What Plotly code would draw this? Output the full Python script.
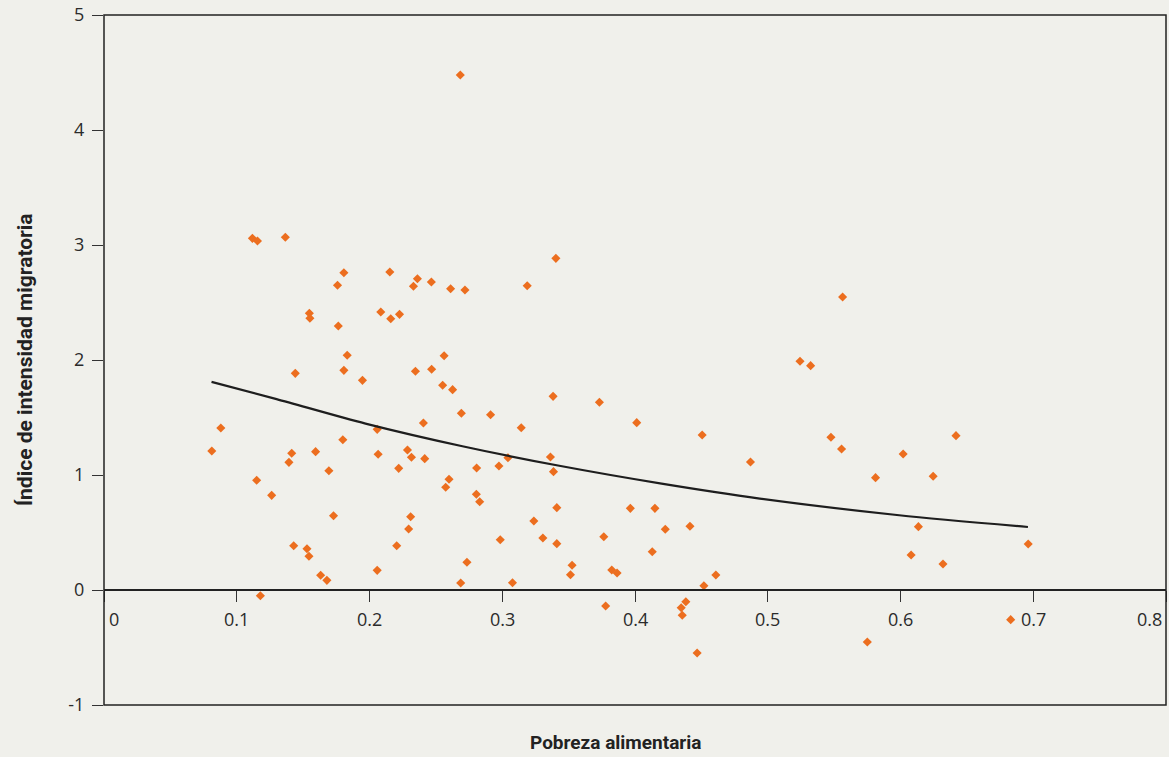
import plotly.graph_objects as go

# Scatter data: Pobreza alimentaria (x) vs Índice de intensidad migratoria (y)
pobreza = [
    0.0812, 0.0880, 0.1118, 0.1156, 0.1366, 0.1150, 0.1178, 0.1263, 0.1393, 0.1414,
    0.1441, 0.1429, 0.1547, 0.1551, 0.1529, 0.1544, 0.1594, 0.1632, 0.1679, 0.1694,
    0.1729, 0.1759, 0.1765, 0.1807, 0.1807, 0.1832, 0.1799, 0.1947, 0.2058, 0.2065,
    0.2058, 0.2085, 0.2153, 0.2160, 0.2226, 0.2220, 0.2205, 0.2286, 0.2316, 0.2310,
    0.2295, 0.2331, 0.2361, 0.2346, 0.2406, 0.2416, 0.2466, 0.2468, 0.2551, 0.2562,
    0.2574, 0.2599, 0.2611, 0.2626, 0.2684, 0.2692, 0.2719, 0.2687, 0.2734, 0.2807,
    0.2805, 0.2830, 0.2912, 0.2975, 0.2985, 0.3043, 0.3077, 0.3143, 0.3188, 0.3238,
    0.3306, 0.3363, 0.3386, 0.3383, 0.3404, 0.3411, 0.3411, 0.3526, 0.3514, 0.3732,
    0.3765, 0.3779, 0.3825, 0.3865, 0.3965, 0.4013, 0.4130, 0.4150, 0.4228, 0.4348,
    0.4356, 0.4383, 0.4414, 0.4468, 0.4506, 0.4519, 0.4609, 0.4870, 0.5243, 0.5323,
    0.5476, 0.5556, 0.5564, 0.5750, 0.5812, 0.6020, 0.6080, 0.6135, 0.6246, 0.6320,
    0.6418, 0.6830, 0.6962,
]
indice = [
    1.209, 1.409, 3.058, 3.035, 3.067, 0.954, -0.050, 0.823, 1.110, 1.189,
    1.884, 0.385, 2.406, 2.363, 0.359, 0.293, 1.203, 0.128, 0.084, 1.037,
    0.646, 2.650, 2.296, 2.759, 1.910, 2.041, 1.307, 1.823, 1.397, 1.180,
    0.171, 2.417, 2.765, 2.359, 2.397, 1.058, 0.385, 1.217, 1.154, 0.637,
    0.530, 2.641, 2.707, 1.902, 1.452, 1.142, 2.678, 1.919, 1.780, 2.037,
    0.893, 0.963, 2.620, 1.742, 4.478, 1.537, 2.609, 0.061, 0.241, 1.061,
    0.832, 0.768, 1.524, 1.078, 0.437, 1.150, 0.063, 1.411, 2.646, 0.600,
    0.452, 1.157, 1.029, 1.684, 2.884, 0.716, 0.403, 0.215, 0.133, 1.632,
    0.463, -0.139, 0.174, 0.148, 0.710, 1.455, 0.333, 0.710, 0.528, -0.154,
    -0.220, -0.102, 0.554, -0.548, 1.348, 0.037, 0.130, 1.113, 1.989, 1.951,
    1.328, 1.226, 2.548, -0.452, 0.977, 1.183, 0.304, 0.551, 0.989, 0.226,
    1.342, -0.258, 0.400,
]

# Trend line, values
trend_x = [0.081, 0.130, 0.197, 0.270, 0.344, 0.420, 0.494, 0.599, 0.696]
trend_y = [1.810, 1.660, 1.447, 1.250, 1.078, 0.925, 0.795, 0.650, 0.548]

x_ticks = [0, 0.1, 0.2, 0.3, 0.4, 0.5, 0.6, 0.7, 0.8]
x_tick_labels = ["0", "0.1", "0.2", "0.3", "0.4", "0.5", "0.6", "0.7", "0.8"]
y_ticks = [-1, 0, 1, 2, 3, 4, 5]
y_tick_labels = ["-1", "0", "1", "2", "3", "4", "5"]

BG = "#f0f0eb"
ORANGE = "#ec6e1f"
TXT = "#2b2b2b"
FONT = "Open Sans"
TITLE_FONT = "Roboto"

fig = go.Figure()
fig.add_trace(go.Scatter(
    x=pobreza, y=indice, mode="markers",
    marker=dict(symbol="diamond", size=7, color=ORANGE, line=dict(width=0)),
    showlegend=False, hoverinfo="x+y",
))
fig.add_trace(go.Scatter(
    x=trend_x, y=trend_y, mode="lines",
    line=dict(color="#1e1e1e", width=2.2, shape="spline", smoothing=0.8),
    showlegend=False, hoverinfo="skip",
))

ymin, ymax = y_ticks[0], y_ticks[-1]
zero_pos = (0 - ymin) / (ymax - ymin)

annotations = []
n = len(x_ticks)
for i, (v, lab) in enumerate(zip(x_ticks, x_tick_labels)):
    if i == 0:
        xa, xs = "left", 3
    elif i == n - 1:
        xa, xs = "right", -2
    else:
        xa, xs = "center", 0
    annotations.append(dict(
        x=v, y=0, xref="x", yref="y", text=lab, showarrow=False,
        xanchor=xa, yanchor="top", xshift=xs, yshift=-15,
        font=dict(family=FONT, size=18, color=TXT),
    ))

annotations.append(dict(
    x=-0.0743, y=0.5, xref="paper", yref="paper",
    text="<b>Índice de intensidad migratoria</b>", showarrow=False,
    textangle=-90, xanchor="center", yanchor="middle",
    font=dict(family=TITLE_FONT, size=21, color="#222222"),
))
annotations.append(dict(
    x=0.4816, y=-0.055, xref="paper", yref="paper",
    text="<b>Pobreza alimentaria</b>", showarrow=False,
    xanchor="center", yanchor="middle",
    font=dict(family=TITLE_FONT, size=19, color="#222222"),
))

fig.update_layout(
    width=1169, height=757,
    margin=dict(l=104, r=3, t=15, b=52),
    paper_bgcolor=BG, plot_bgcolor=BG,
    showlegend=False,
    xaxis=dict(
        range=[x_ticks[0], x_ticks[-1]],
        anchor="free", position=zero_pos,
        tickvals=x_ticks, showticklabels=False,
        ticks="outside", ticklen=11, tickwidth=1.3, tickcolor="#333333",
        showline=True, linecolor="#222222", linewidth=1.5,
        showgrid=False, zeroline=False,
    ),
    yaxis=dict(
        range=[ymin, ymax],
        tickvals=y_ticks, ticktext=y_tick_labels,
        ticks="outside", ticklen=11, tickwidth=1.3, tickcolor="#333333",
        ticklabelstandoff=4,
        tickfont=dict(family=FONT, size=18, color=TXT),
        showline=False, showgrid=False, zeroline=False,
    ),
    shapes=[dict(
        type="rect", xref="paper", yref="paper", x0=0, x1=1, y0=0, y1=1,
        line=dict(color="#222222", width=1.5), fillcolor="rgba(0,0,0,0)",
        layer="above",
    )],
    annotations=annotations,
)

fig.write_html("out.html")
